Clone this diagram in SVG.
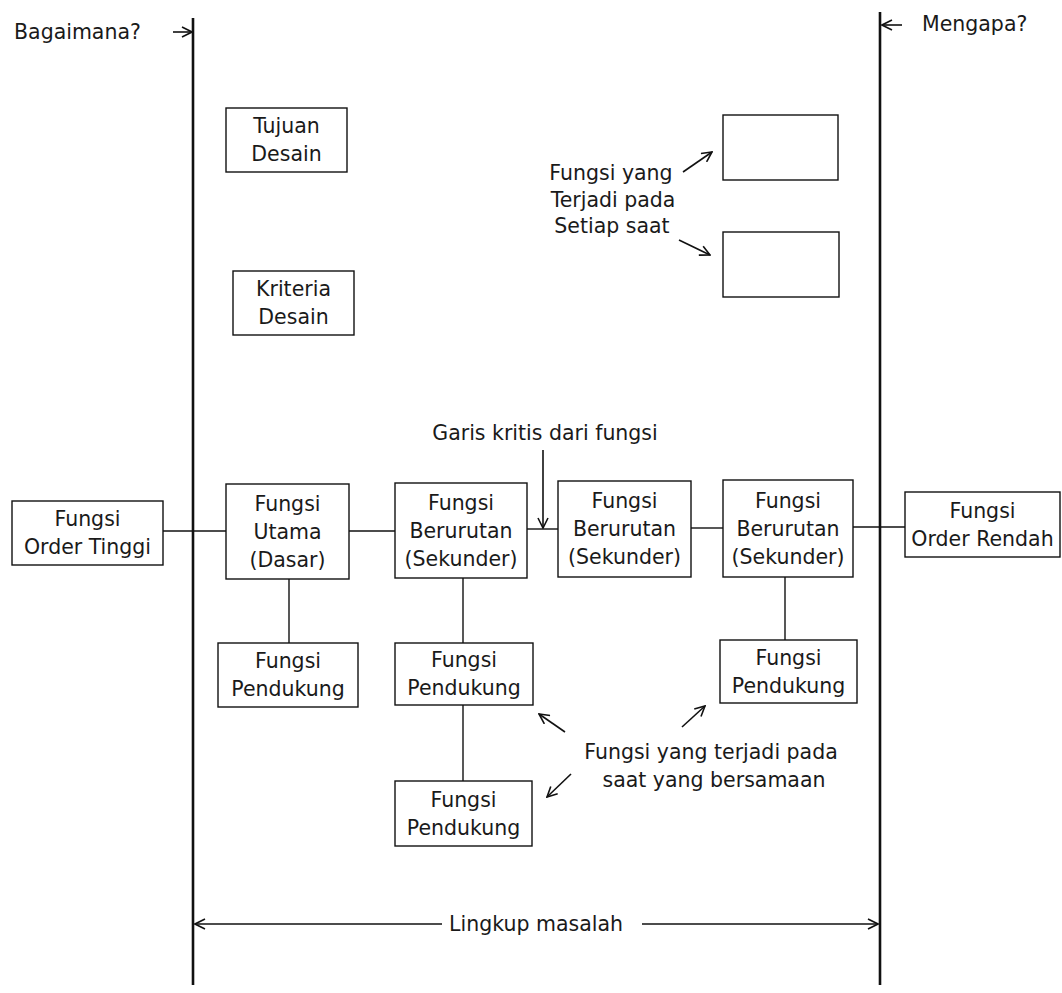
<svg xmlns="http://www.w3.org/2000/svg" width="1062" height="993" viewBox="0 0 1062 993">
  <defs>
    <marker id="chev" viewBox="0 0 12 12" refX="11" refY="6" markerWidth="12" markerHeight="12" markerUnits="userSpaceOnUse" orient="auto-start-reverse">
      <path d="M1,1 L11,6 L1,11" fill="none" stroke="#111" stroke-width="1.6"/>
    </marker>
  </defs>
  <style>
    text { font-family: "DejaVu Sans", Verdana, sans-serif; font-size: 20.5px; fill: #1a1a1a; text-anchor: middle; }
    .box { fill: #fff; stroke: #111; stroke-width: 1.4; }
    .ln { fill: none; stroke: #111; stroke-width: 1.4; }
    .bound { fill: none; stroke: #111; stroke-width: 2.6; }
    .arw { fill: none; stroke: #111; stroke-width: 1.6; marker-end: url(#chev); }
  </style>

  <rect width="1062" height="993" fill="#fff"/>

  <!-- scope boundaries -->
  <g id="boundaries">
    <line class="bound" x1="193" y1="18" x2="193" y2="985"/>
    <line class="bound" x1="880" y1="12" x2="880" y2="985"/>
    <text x="14" y="39" style="text-anchor:start">Bagaimana?</text>
    <line class="arw" x1="173" y1="32" x2="192" y2="32"/>
    <text x="922" y="31" style="text-anchor:start">Mengapa?</text>
    <line class="arw" x1="902" y1="25" x2="882" y2="25"/>
    <line class="arw" x1="442" y1="924" x2="195" y2="924"/>
    <line class="arw" x1="642" y1="924" x2="878" y2="924"/>
    <text x="536" y="931">Lingkup masalah</text>
  </g>

  <!-- connectors -->
  <g id="connectors">
    <line class="ln" x1="163" y1="531" x2="226" y2="531"/>
    <line class="ln" x1="349" y1="531" x2="395" y2="531"/>
    <line class="ln" x1="527" y1="529" x2="558" y2="529"/>
    <line class="ln" x1="691" y1="528" x2="723" y2="528"/>
    <line class="ln" x1="853" y1="527" x2="905" y2="527"/>
    <line class="ln" x1="289" y1="579" x2="289" y2="643"/>
    <line class="ln" x1="463" y1="578" x2="463" y2="643"/>
    <line class="ln" x1="463" y1="705" x2="463" y2="781"/>
    <line class="ln" x1="785" y1="577" x2="785" y2="640"/>
  </g>

  <!-- design goal / criteria -->
  <g id="tujuan">
    <rect class="box" x="226" y="108" width="121" height="64"/>
    <text x="286.5" y="133">Tujuan</text>
    <text x="286.5" y="161">Desain</text>
  </g>
  <g id="kriteria">
    <rect class="box" x="233" y="271" width="121" height="64"/>
    <text x="293.5" y="296">Kriteria</text>
    <text x="293.5" y="324">Desain</text>
  </g>

  <!-- functions that happen all the time -->
  <g id="setiap-saat-1">
    <rect class="box" x="723" y="115" width="115" height="65"/>
  </g>
  <g id="setiap-saat-2">
    <rect class="box" x="723" y="232" width="116" height="65"/>
  </g>
  <g id="label-setiap-saat">
    <text x="611" y="180">Fungsi yang</text>
    <text x="613" y="207">Terjadi pada</text>
    <text x="612" y="233">Setiap saat</text>
    <line class="arw" x1="683" y1="172" x2="712" y2="152"/>
    <line class="arw" x1="679" y1="240" x2="710" y2="255"/>
  </g>

  <!-- critical path row -->
  <g id="order-tinggi">
    <rect class="box" x="12" y="501" width="151" height="64"/>
    <text x="87.5" y="526">Fungsi</text>
    <text x="87.5" y="554">Order Tinggi</text>
  </g>
  <g id="utama">
    <rect class="box" x="226" y="484" width="123" height="95"/>
    <text x="287.5" y="511">Fungsi</text>
    <text x="287.5" y="539">Utama</text>
    <text x="287.5" y="567">(Dasar)</text>
  </g>
  <g id="berurutan-1">
    <rect class="box" x="395" y="483" width="132" height="95"/>
    <text x="461" y="510">Fungsi</text>
    <text x="461" y="538">Berurutan</text>
    <text x="461" y="566">(Sekunder)</text>
  </g>
  <g id="berurutan-2">
    <rect class="box" x="558" y="481" width="133" height="96"/>
    <text x="624.5" y="508">Fungsi</text>
    <text x="624.5" y="536">Berurutan</text>
    <text x="624.5" y="564">(Sekunder)</text>
  </g>
  <g id="berurutan-3">
    <rect class="box" x="723" y="480" width="130" height="97"/>
    <text x="788" y="508">Fungsi</text>
    <text x="788" y="536">Berurutan</text>
    <text x="788" y="564">(Sekunder)</text>
  </g>
  <g id="order-rendah">
    <rect class="box" x="905" y="492" width="155" height="65"/>
    <text x="982.5" y="518">Fungsi</text>
    <text x="982.5" y="546">Order Rendah</text>
  </g>
  <g id="garis-kritis">
    <text x="545" y="440">Garis kritis dari fungsi</text>
    <line class="arw" x1="543" y1="450" x2="543" y2="528"/>
  </g>

  <!-- supporting functions -->
  <g id="pendukung-1">
    <rect class="box" x="218" y="643" width="140" height="64"/>
    <text x="288" y="668">Fungsi</text>
    <text x="288" y="696">Pendukung</text>
  </g>
  <g id="pendukung-2">
    <rect class="box" x="395" y="643" width="138" height="62"/>
    <text x="464" y="667">Fungsi</text>
    <text x="464" y="695">Pendukung</text>
  </g>
  <g id="pendukung-3">
    <rect class="box" x="395" y="781" width="137" height="65"/>
    <text x="463.5" y="807">Fungsi</text>
    <text x="463.5" y="835">Pendukung</text>
  </g>
  <g id="pendukung-4">
    <rect class="box" x="720" y="640" width="137" height="63"/>
    <text x="788.5" y="665">Fungsi</text>
    <text x="788.5" y="693">Pendukung</text>
  </g>
  <g id="label-bersamaan">
    <text x="711" y="759">Fungsi yang terjadi pada</text>
    <text x="714" y="787">saat yang bersamaan</text>
    <line class="arw" x1="565" y1="732" x2="539" y2="714"/>
    <line class="arw" x1="571" y1="774" x2="547" y2="797"/>
    <line class="arw" x1="682" y1="727" x2="705" y2="706"/>
  </g>
</svg>
